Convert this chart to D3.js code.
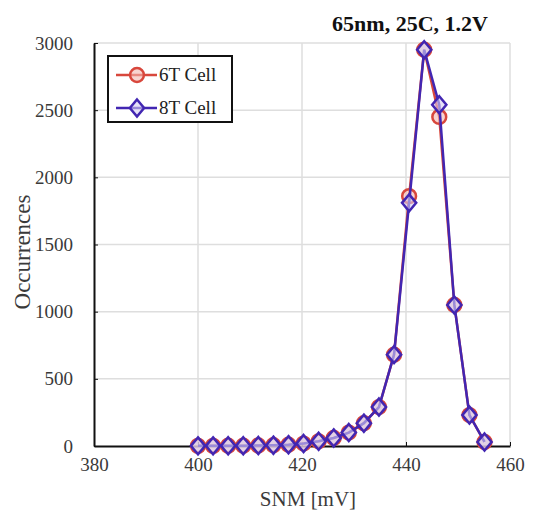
<!DOCTYPE html>
<meta charset="utf-8">
<style>
body { margin: 0; background: #fff; }
text { font-family: "Liberation Serif", "Times New Roman", serif; }
.grid line { stroke: #dedede; stroke-width: 1.5px; }
.axis path, .axis line { stroke: #111; }
.axis text { font-size: 19px; fill: #3a3a3a; font-family: "Liberation Serif", serif; }
</style>
<svg width="536" height="516"></svg>
<script src="https://d3js.org/d3.v7.min.js"></script>
<script>

// SNM bins [mV]
var snm = [400, 402.9, 405.8, 408.7, 411.6, 414.5, 417.4, 420.3, 423.2, 426.1,
           429, 431.9, 434.8, 437.7, 440.6, 443.5, 446.4, 449.3, 452.2, 455.1];
var cell6T = [1, 1, 2, 2, 4, 6, 10, 18, 35, 60,
              100, 170, 290, 680, 1860, 2950, 2450, 1050, 230, 30];
var cell8T = [1, 1, 2, 2, 4, 6, 10, 18, 35, 60,
              100, 170, 290, 680, 1810, 2950, 2540, 1050, 230, 30];
var xTicks = [380, 400, 420, 440, 460];
var yTicks = [0, 500, 1000, 1500, 2000, 2500, 3000];

var svg = d3.select("svg");
var plotLeft = 94, plotRight = 510, plotTop = 43, plotBottom = 446;

var x = d3.scaleLinear().domain([380, 460]).range([plotLeft, plotRight]);
var y = d3.scaleLinear().domain([0, 3000]).range([plotBottom, plotTop]);

// grid
var grid = svg.append("g").attr("class", "grid");
grid.selectAll(".v").data(xTicks.slice(1)).enter().append("line")
    .attr("x1", function(d) { return x(d); }).attr("x2", function(d) { return x(d); })
    .attr("y1", plotTop).attr("y2", plotBottom);
grid.selectAll(".h").data(yTicks.slice(1)).enter().append("line")
    .attr("x1", plotLeft).attr("x2", plotRight)
    .attr("y1", function(d) { return y(d); }).attr("y2", function(d) { return y(d); });

// axes
var xAxis = svg.append("g").attr("class", "axis")
    .attr("transform", "translate(0," + plotBottom + ")")
    .call(d3.axisBottom(x).tickValues(xTicks).tickSizeInner(-4).tickSizeOuter(0).tickPadding(12));
xAxis.select(".domain").attr("stroke-width", 2);

var yAxis = svg.append("g").attr("class", "axis")
    .attr("transform", "translate(" + plotLeft + ",0)")
    .call(d3.axisLeft(y).tickValues(yTicks).tickFormat(d3.format("d"))
      .tickSizeInner(-4).tickSizeOuter(0).tickPadding(21));
yAxis.select(".domain").attr("stroke-width", 2);

// wide diamond like the original marker
var wideDiamond = {
  draw: function(ctx, size) {
    var w = Math.sqrt(size) * 0.6, h = w * 1.2;
    ctx.moveTo(0, -h); ctx.lineTo(w, 0); ctx.lineTo(0, h); ctx.lineTo(-w, 0); ctx.closePath();
  }
};

// series
var series = [
  {name: "6T Cell", values: cell6T, stroke: "#d8473c", fill: "#f4b7b0", shape: d3.symbolCircle, size: 150},
  {name: "8T Cell", values: cell8T, stroke: "#4226b2", fill: "#d6cff3", shape: wideDiamond, size: 140}
];

var line = d3.line()
    .x(function(d) { return x(d[0]); })
    .y(function(d) { return y(d[1]); });

series.forEach(function(s) {
  var pts = snm.map(function(v, i) { return [v, s.values[i]]; });
  var g = svg.append("g");
  g.append("path").datum(pts)
    .attr("fill", "none").attr("stroke", s.stroke).attr("stroke-width", 2.5)
    .attr("d", line);
  g.selectAll("path.m").data(pts).enter().append("path")
    .attr("class", "m")
    .attr("transform", function(d) { return "translate(" + x(d[0]) + "," + y(d[1]) + ")"; })
    .attr("d", d3.symbol().type(s.shape).size(s.size))
    .attr("fill", s.fill).attr("fill-opacity", 0.6)
    .attr("stroke", s.stroke).attr("stroke-width", 2.5);
});

// legend
var legend = svg.append("g");
legend.append("rect")
    .attr("x", 108).attr("y", 56).attr("width", 124).attr("height", 66)
    .attr("fill", "#fff").attr("stroke", "#111").attr("stroke-width", 2);
series.forEach(function(s, i) {
  var ly = 75 + i * 33;
  legend.append("line").attr("x1", 116).attr("x2", 157).attr("y1", ly).attr("y2", ly)
    .attr("stroke", s.stroke).attr("stroke-width", 2.5);
  legend.append("path")
    .attr("transform", "translate(137," + ly + ")")
    .attr("d", d3.symbol().type(s.shape).size(s.size))
    .attr("fill", s.fill).attr("fill-opacity", 0.6)
    .attr("stroke", s.stroke).attr("stroke-width", 2.5);
  legend.append("text").attr("x", 159).attr("y", ly + 6)
    .attr("font-size", 19).attr("fill", "#222").text(s.name);
});

// title and labels
svg.append("text").attr("x", 410).attr("y", 31).attr("text-anchor", "middle")
    .attr("font-size", 22).attr("font-weight", "bold").attr("fill", "#111")
    .text("65nm, 25C, 1.2V");
svg.append("text").attr("x", 308).attr("y", 506).attr("text-anchor", "middle")
    .attr("font-size", 21).attr("fill", "#3a3a3a").text("SNM [mV]");
svg.append("text").attr("transform", "translate(30,252) rotate(-90)")
    .attr("text-anchor", "middle").attr("font-size", 23).attr("fill", "#3a3a3a")
    .text("Occurrences");

</script>
